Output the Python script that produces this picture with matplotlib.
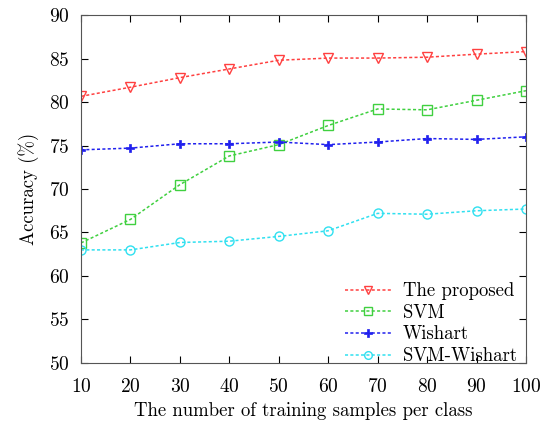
import matplotlib
matplotlib.use("Agg")
import matplotlib.pyplot as plt

x = [10, 20, 30, 40, 50, 60, 70, 80, 90, 100]
proposed = [80.65, 81.7, 82.8, 83.8, 84.8, 85.05, 85.05, 85.15, 85.5, 85.8]
svm = [63.8, 66.5, 70.5, 73.8, 75.1, 77.3, 79.2, 79.1, 80.2, 81.3]
wishart = [74.5, 74.7, 75.2, 75.2, 75.4, 75.1, 75.4, 75.8, 75.7, 76.0]
svm_wishart = [63.0, 63.0, 63.85, 64.0, 64.55, 65.2, 67.2, 67.1, 67.5, 67.7]
labels = ["The proposed", "SVM", "Wishart", "SVM-Wishart"]
yticks = [50, 55, 60, 65, 70, 75, 80, 85, 90]

plt.rcParams['font.family'] = ['cmr10', 'DejaVu Serif']
plt.rcParams['axes.formatter.use_mathtext'] = True

fig = plt.figure(figsize=(5.42, 4.24), dpi=100)
ax = fig.add_axes([0.1494, 0.1439, 0.8211, 0.8207])

ls = (0, (2, 1.5))
ax.plot(x, proposed, color='#ff4040', linestyle=ls, lw=1.1, marker='v', ms=7.5,
        mfc='none', mec='#ff4040', mew=1.0, label=labels[0])
ax.plot(x, svm, color='#40d040', linestyle=ls, lw=1.1, marker='s', ms=6.5,
        mfc='none', mec='#40d040', mew=1.0, label=labels[1])
ax.plot(x, wishart, color='#2020ee', linestyle=ls, lw=1.1, marker='P', ms=6,
        mfc='#2020ee', mec='#2020ee', mew=0.5, label=labels[2])
ax.plot(x, svm_wishart, color='#30e0f0', linestyle=ls, lw=1.1, marker='o', ms=6.5,
        mfc='none', mec='#30e0f0', mew=1.0, label=labels[3])

ax.set_xlim(10, 100)
ax.set_ylim(50, 90)
ax.set_xticks(x)
ax.set_yticks(yticks)
ax.tick_params(direction='in', top=True, right=True, labelsize=14, length=5)
ax.tick_params(axis='x', pad=11)
ax.tick_params(axis='y', pad=8)
for s in ax.spines.values():
    s.set_color('#555555')
ax.set_xlabel("The number of training samples per class", fontsize=13.5, labelpad=4)
ax.set_ylabel("Accuracy (%)", fontsize=13.5, labelpad=7)
ax.legend(loc='lower right', bbox_to_anchor=(1.0, -0.033), frameon=False,
          fontsize=13.5, handlelength=2.45, labelspacing=0.2, borderaxespad=0.1,
          handletextpad=0.64, markerscale=0.85)

fig.savefig("out.png", dpi=100)
